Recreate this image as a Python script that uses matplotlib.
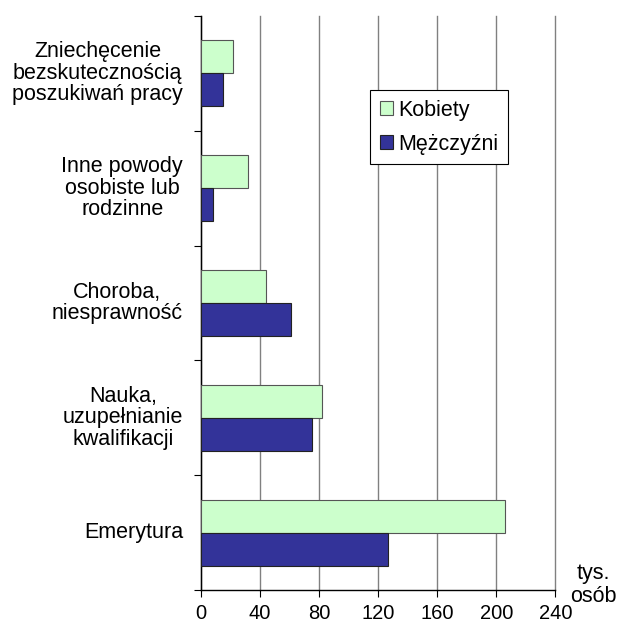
import numpy as np
import matplotlib

matplotlib.use("Agg")
import matplotlib.pyplot as plt  # noqa: E402

categories = [
    "Emerytura",
    "Nauka,\nuzupełnianie\nkwalifikacji",
    "Choroba,\nniesprawność",
    "Inne powody\nosobiste lub\nrodzinne",
    "Zniechęcenie\nbezskutecznością\nposzukiwań pracy",
]
kobiety = [206, 82, 44, 32, 22]
mezczyzni = [127, 75, 61, 8, 15]
series_names = ["Kobiety", "Mężczyźni"]
xticks = [0, 40, 80, 120, 160, 200, 240]

GREEN = "#CCFFCC"
BLUE = "#333399"
FS = 15.5

plt.rcParams.update({
    "font.family": ["Liberation Sans", "DejaVu Sans"],
    "font.size": FS,
})

fig = plt.figure(figsize=(6.17, 6.24), dpi=100)
L, R, T, B = 200.7, 555.3, 15.7, 590.3
ax = fig.add_axes([L / 617, 1 - B / 624, (R - L) / 617, (B - T) / 624])

y = np.arange(len(categories))
h = 0.287
ax.barh(y + h / 2, kobiety, height=h, color=GREEN, edgecolor="#555555", lw=0.8,
        label=series_names[0], zorder=3)
ax.barh(y - h / 2, mezczyzni, height=h, color=BLUE, edgecolor="#222222", lw=0.8,
        label=series_names[1], zorder=3)

ax.set_xlim(0, 240)
ax.set_ylim(-0.5, len(categories) - 0.5)
ax.set_xticks(xticks)
ax.set_xticklabels([str(t) for t in xticks], fontsize=14.5)
ax.set_yticks(np.arange(-0.5, len(categories), 1.0))
ax.set_yticklabels([])
ax.tick_params(axis="y", length=5, direction="out", width=0.8)
ax.tick_params(axis="x", length=5, direction="out", width=0.8, pad=5)

# category labels: right-aligned blocks, lines centred within
for yi, lab in zip(y, categories):
    ax.text(-12.0, yi, lab, ha="right", va="center", multialignment="center",
            linespacing=1.05, fontsize=FS, clip_on=False)

ax.xaxis.grid(True, color="#808080", lw=1.0, zorder=0)
for gl in ax.xaxis.get_gridlines():
    gl.set_clip_on(False)
ax.set_axisbelow(True)
for s in ("top", "right"):
    ax.spines[s].set_visible(False)
for s in ("left", "bottom"):
    ax.spines[s].set_linewidth(1.0)
    ax.spines[s].set_color("black")

leg = ax.legend(loc="upper left",
                bbox_to_anchor=((370 - L) / (R - L), 1 - (90 - T) / (B - T)),
                frameon=True, fancybox=False, edgecolor="black", framealpha=1,
                handlelength=0.6, handleheight=0.6, handletextpad=0.25, borderpad=0.45,
                borderaxespad=0, labelspacing=0.6, fontsize=FS)
leg.get_frame().set_linewidth(0.8)

fig.text(593 / 617, 1 - 585 / 624, "tys.\nosób", ha="center", va="center",
         fontsize=FS, linespacing=1.15)

fig.savefig("out.png", dpi=100)
